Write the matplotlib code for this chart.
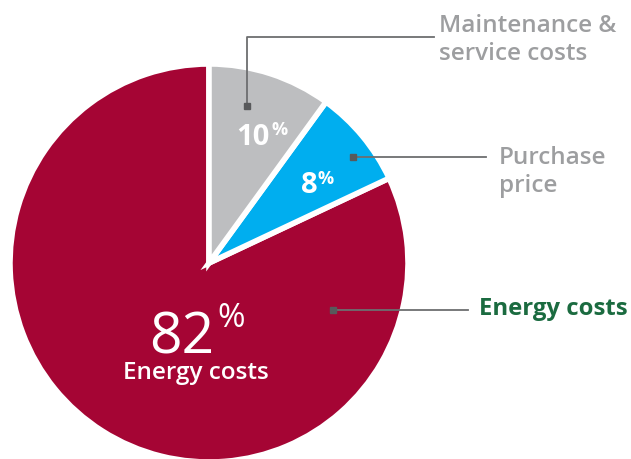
import matplotlib.pyplot as plt

plt.rcParams['font.family'] = ['Open Sans', 'DejaVu Sans']

# data: share of total cost of ownership
labels = ['Energy costs', 'Purchase\nprice', 'Maintenance &\nservice costs']
shares = [82, 8, 10]
colors = ['#A50534', '#00AEEF', '#BDBEC0']
explode = [0, 0.06, 0.05]

W, H = 631, 459
fig = plt.figure(figsize=(W / 100, H / 100), dpi=100)
ax = fig.add_axes([0, 0, 1, 1])
ax.axis('off')

cx, cy, r = 209, H - 263, 199
wedges, _ = ax.pie(shares, colors=colors, explode=explode, startangle=90,
                   counterclock=True, center=(cx, cy), radius=r,
                   wedgeprops=dict(edgecolor='white', linewidth=4))
ax.set_xlim(0, W)
ax.set_ylim(0, H)
ax.set_aspect('equal')


def Y(y):
    return H - y


line_c = '#6D6E70'
label_c = '#9D9EA0'

# leader lines (image pixel coords)
ax.plot([247, 247, 434], [Y(106), Y(37), Y(37)], color=line_c, lw=1.3)
ax.plot([247], [Y(106)], marker='s', ms=5, color='#58595B')
ax.plot([353, 486], [Y(157), Y(157)], color=line_c, lw=1.3)
ax.plot([353], [Y(157)], marker='s', ms=5, color='#58595B')
ax.plot([333, 468], [Y(310), Y(310)], color=line_c, lw=1.3)
ax.plot([333], [Y(310)], marker='s', ms=5, color='#58595B')

# outside labels
ax.text(439, Y(40), labels[2], ha='left', va='center', fontsize=17.5,
        color=label_c, fontweight=600, linespacing=1.2)
ax.text(499, Y(172), labels[1], ha='left', va='center', fontsize=17.5,
        color=label_c, fontweight=600, linespacing=1.2)
ax.text(479, Y(309), labels[0], ha='left', va='center', fontsize=17.2,
        color='#1B6B40', fontweight='bold')

# inside labels
ax.text(270, Y(145), str(shares[2]), ha='right', va='baseline', fontsize=21,
        color='white', fontweight='bold')
ax.text(271, Y(121), '%', ha='left', va='top', fontsize=13,
        color='white', fontweight='bold')
ax.text(318, Y(193), str(shares[1]), ha='right', va='baseline', fontsize=21,
        color='white', fontweight='bold')
ax.text(318, Y(170), '%', ha='left', va='top', fontsize=13,
        color='white', fontweight='bold')
ax.text(214, Y(353), str(shares[0]), ha='right', va='baseline', fontsize=41,
        color='white')
ax.text(217, Y(302), '%', ha='left', va='top', fontsize=24, color='white')
ax.text(196, Y(373), 'Energy costs', ha='center', va='center', fontsize=17.5,
        color='white', fontweight=600)

fig.savefig('out.png', dpi=100)
